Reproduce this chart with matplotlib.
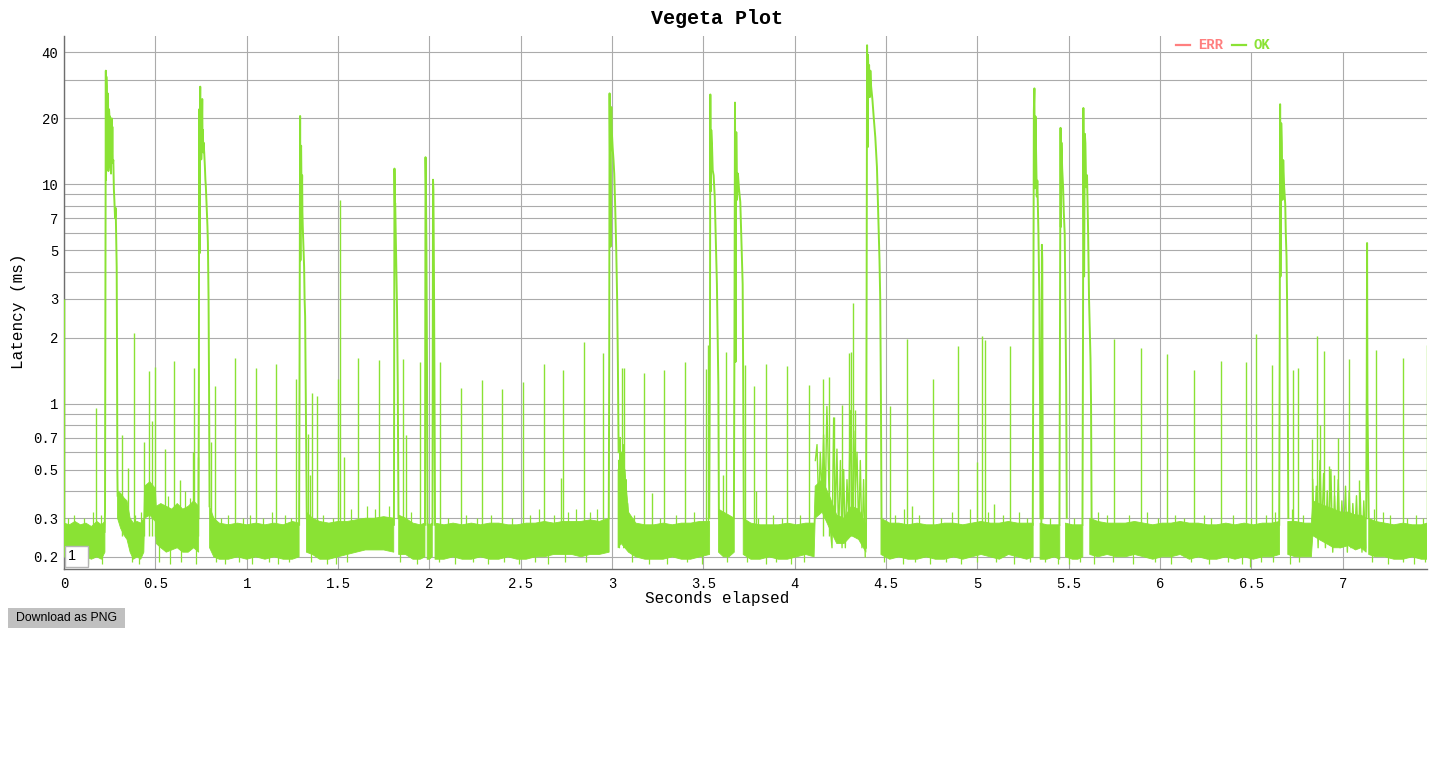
import numpy as np
import matplotlib
matplotlib.use("Agg")
import matplotlib.pyplot as plt
from matplotlib.patches import Rectangle
from matplotlib.lines import Line2D

nan = np.nan

# ---------------- data ----------------
# dense "normal" latency band: envelope (seconds, low ms, high ms); nan = gap
band_t = [0.000, 0.030, 0.060, 0.090, 0.120, 0.150, 0.180, 0.205, 0.224, nan,
          0.293, 0.310, 0.330, 0.345, 0.362, 0.380, 0.400, 0.420, 0.437, 0.441, 0.470,
          0.500, 0.505, 0.530, 0.560, 0.590, 0.620, 0.650, 0.680, 0.710, 0.737, nan,
          0.797, 0.820, 0.850, 0.900, 0.950, 1.000, 1.050, 1.100, 1.150, 1.200, 1.250, 1.287, nan,
          1.327, 1.360, 1.400, 1.450, 1.500, 1.550, 1.600, 1.650, 1.700, 1.750, 1.805, nan,
          1.832, 1.870, 1.910, 1.950, 1.976, nan,
          1.988, 2.000, 2.016, nan,
          2.031, 2.080, 2.130, 2.180, 2.230, 2.280, 2.330, 2.380, 2.430, 2.480,
          2.530, 2.580, 2.630, 2.680, 2.730, 2.780, 2.830, 2.880, 2.930, 2.984, nan,
          3.033, 3.050, 3.070, 3.090, 3.130, 3.180, 3.230, 3.280, 3.330, 3.380, 3.430, 3.480, 3.534, nan,
          3.583, 3.610, 3.640, 3.669, nan,
          3.718, 3.760, 3.810, 3.860, 3.910, 3.960, 4.010, 4.060, 4.106, 4.112, 4.150, 4.190,
          4.230, 4.270, 4.310, 4.350, 4.390, nan,
          4.472, 4.520, 4.570, 4.620, 4.670, 4.720, 4.770, 4.820, 4.870, 4.920, 4.970, 5.020,
          5.070, 5.120, 5.170, 5.220, 5.270, 5.305, nan,
          5.343, 5.380, 5.420, 5.451, nan,
          5.482, 5.520, 5.550, 5.577, nan,
          5.615, 5.660, 5.710, 5.760, 5.810, 5.860, 5.910, 5.960, 6.010, 6.060, 6.110, 6.160,
          6.210, 6.260, 6.310, 6.360, 6.410, 6.460, 6.510, 6.560, 6.610, 6.654, nan,
          6.699, 6.740, 6.790, 6.828, 6.836, 6.870, 6.910, 6.950, 6.990, 7.030, 7.070, 7.100, 7.128, nan,
          7.142, 7.180, 7.230, 7.280, 7.330, 7.380, 7.430, 7.462]
band_hi = [0.285, 0.28, 0.29, 0.28, 0.285, 0.275, 0.29, 0.28, 0.29, nan,
           0.40, 0.39, 0.37, 0.36, 0.30, 0.285, 0.29, 0.285, 0.30, 0.42, 0.44,
           0.41, 0.34, 0.35, 0.34, 0.33, 0.35, 0.33, 0.34, 0.36, 0.34, nan,
           0.34, 0.30, 0.285, 0.28, 0.285, 0.28, 0.285, 0.28, 0.285, 0.28, 0.29, 0.285, nan,
           0.32, 0.30, 0.29, 0.285, 0.29, 0.29, 0.295, 0.30, 0.30, 0.305, 0.30, nan,
           0.31, 0.30, 0.285, 0.28, 0.285, nan,
           0.285, 0.28, 0.285, nan,
           0.285, 0.28, 0.285, 0.28, 0.285, 0.28, 0.285, 0.285, 0.28, 0.28,
           0.285, 0.285, 0.29, 0.285, 0.29, 0.29, 0.29, 0.295, 0.29, 0.30, nan,
           0.50, 0.55, 0.50, 0.32, 0.285, 0.28, 0.28, 0.285, 0.28, 0.285, 0.285, 0.29, 0.29, nan,
           0.33, 0.32, 0.31, 0.30, nan,
           0.30, 0.285, 0.28, 0.28, 0.28, 0.285, 0.28, 0.285, 0.285, 0.42, 0.45, 0.38,
           0.31, 0.30, 0.34, 0.33, 0.28, nan,
           0.30, 0.285, 0.285, 0.28, 0.285, 0.28, 0.28, 0.285, 0.285, 0.28, 0.285, 0.29,
           0.285, 0.285, 0.29, 0.285, 0.285, 0.285, nan,
           0.285, 0.28, 0.28, 0.28, nan,
           0.285, 0.28, 0.28, 0.28, nan,
           0.30, 0.29, 0.285, 0.285, 0.285, 0.29, 0.285, 0.28, 0.285, 0.285, 0.29, 0.285,
           0.285, 0.28, 0.28, 0.285, 0.28, 0.285, 0.28, 0.285, 0.285, 0.29, nan,
           0.29, 0.29, 0.285, 0.285, 0.36, 0.35, 0.34, 0.33, 0.32, 0.32, 0.31, 0.31, 0.30, nan,
           0.30, 0.29, 0.285, 0.28, 0.285, 0.28, 0.28, 0.285]
band_lo = [0.20, 0.195, 0.20, 0.195, 0.20, 0.195, 0.20, 0.195, 0.21, nan,
           0.30, 0.27, 0.25, 0.24, 0.21, 0.195, 0.20, 0.195, 0.21, 0.30, 0.31,
           0.29, 0.23, 0.22, 0.21, 0.215, 0.22, 0.21, 0.21, 0.22, 0.21, nan,
           0.22, 0.20, 0.195, 0.195, 0.20, 0.195, 0.20, 0.195, 0.20, 0.195, 0.195, 0.20, nan,
           0.21, 0.205, 0.195, 0.195, 0.20, 0.205, 0.21, 0.215, 0.215, 0.215, 0.21, nan,
           0.205, 0.205, 0.195, 0.195, 0.20, nan,
           0.195, 0.195, 0.20, nan,
           0.195, 0.195, 0.20, 0.195, 0.195, 0.20, 0.195, 0.195, 0.20, 0.195,
           0.195, 0.20, 0.20, 0.205, 0.205, 0.205, 0.20, 0.205, 0.205, 0.21, nan,
           0.22, 0.23, 0.22, 0.21, 0.20, 0.195, 0.195, 0.195, 0.20, 0.195, 0.195, 0.20, 0.205, nan,
           0.21, 0.20, 0.20, 0.21, nan,
           0.205, 0.195, 0.195, 0.20, 0.195, 0.195, 0.20, 0.205, 0.20, 0.30, 0.32, 0.27,
           0.23, 0.23, 0.25, 0.24, 0.21, nan,
           0.205, 0.195, 0.20, 0.195, 0.195, 0.20, 0.195, 0.195, 0.20, 0.195, 0.20, 0.205,
           0.20, 0.195, 0.205, 0.20, 0.195, 0.20, nan,
           0.195, 0.195, 0.20, 0.195, nan,
           0.20, 0.195, 0.195, 0.20, nan,
           0.205, 0.20, 0.205, 0.20, 0.20, 0.205, 0.20, 0.195, 0.20, 0.20, 0.205, 0.195,
           0.20, 0.195, 0.195, 0.20, 0.195, 0.20, 0.195, 0.20, 0.20, 0.205, nan,
           0.205, 0.20, 0.20, 0.20, 0.25, 0.24, 0.23, 0.22, 0.22, 0.225, 0.215, 0.22, 0.21, nan,
           0.205, 0.20, 0.20, 0.195, 0.195, 0.20, 0.195, 0.195]

# small excursions out of the band (seconds, ms)
tip_up_t = [0.020, 0.055, 0.110, 0.160, 0.205, 0.390, 0.420, 0.570, 0.660, 0.690, 0.860, 0.900,
            0.980, 1.020, 1.090, 1.140, 1.210, 1.240, 1.420, 1.470, 1.570, 1.660, 1.700, 1.780,
            1.900, 2.100, 2.200, 2.260, 2.340, 2.450, 2.550, 2.600, 2.680, 2.760, 2.800, 2.880,
            2.920, 3.120, 3.260, 3.350, 3.450, 3.800, 3.880, 3.930, 4.030, 4.550, 4.600, 4.680,
            4.800, 4.860, 4.960, 5.060, 5.140, 5.230, 5.270, 5.400, 5.530, 5.660, 5.710, 5.830,
            5.930, 5.990, 6.080, 6.130, 6.240, 6.280, 6.400, 6.500, 6.580, 6.630, 6.720, 6.780,
            7.170, 7.220, 7.260, 7.350, 7.400, 7.440]
tip_up_v = [0.30, 0.31, 0.30, 0.32, 0.31, 0.31, 0.32, 0.38, 0.40, 0.37, 0.30, 0.31,
            0.30, 0.31, 0.30, 0.32, 0.31, 0.30, 0.31, 0.30, 0.33, 0.34, 0.33, 0.34,
            0.32, 0.30, 0.31, 0.30, 0.31, 0.30, 0.31, 0.33, 0.31, 0.32, 0.33, 0.32,
            0.33, 0.31, 0.30, 0.31, 0.32, 0.30, 0.31, 0.30, 0.31, 0.31, 0.33, 0.31,
            0.30, 0.32, 0.33, 0.32, 0.31, 0.32, 0.30, 0.30, 0.30, 0.32, 0.31, 0.31,
            0.32, 0.30, 0.31, 0.30, 0.31, 0.30, 0.31, 0.30, 0.31, 0.32, 0.33, 0.31,
            0.33, 0.32, 0.31, 0.30, 0.31, 0.30]
tip_dn_t = [0.040, 0.130, 0.210, 0.370, 0.410, 0.520, 0.580, 0.640, 0.720, 0.830, 0.880, 0.960,
            1.030, 1.120, 1.170, 1.230, 1.350, 1.440, 1.490, 1.550, 1.840, 1.930, 2.050, 2.140,
            2.240, 2.320, 2.410, 2.490, 2.580, 2.650, 2.740, 2.860, 3.110, 3.200, 3.300, 3.410,
            3.490, 3.630, 3.740, 3.840, 3.900, 3.980, 4.050, 4.490, 4.590, 4.660, 4.740, 4.830,
            4.910, 5.000, 5.100, 5.200, 5.290, 5.370, 5.440, 5.500, 5.560, 5.640, 5.740, 5.850,
            5.970, 6.060, 6.170, 6.270, 6.370, 6.450, 6.490, 6.550, 6.620, 6.710, 6.760, 7.160,
            7.250, 7.330, 7.390, 7.450]
tip_dn_v = [0.19, 0.185, 0.185, 0.19, 0.185, 0.19, 0.185, 0.19, 0.185, 0.19, 0.185, 0.19,
            0.185, 0.19, 0.185, 0.19, 0.19, 0.185, 0.185, 0.19, 0.19, 0.185, 0.19, 0.185,
            0.19, 0.185, 0.19, 0.185, 0.19, 0.185, 0.19, 0.19, 0.19, 0.185, 0.185, 0.19,
            0.185, 0.19, 0.19, 0.185, 0.19, 0.185, 0.19, 0.19, 0.185, 0.19, 0.185, 0.19,
            0.185, 0.19, 0.19, 0.185, 0.19, 0.19, 0.185, 0.185, 0.19, 0.185, 0.19, 0.185,
            0.19, 0.185, 0.19, 0.185, 0.19, 0.185, 0.18, 0.19, 0.19, 0.185, 0.19, 0.19,
            0.185, 0.19, 0.185, 0.19]
tip_mid = 0.24

# latency bursts (seconds, ms); nan separates bursts
burst_t = [0.222, 0.2245, 0.2290, 0.2300, 0.2318, 0.2336, 0.2355, 0.2373, 0.2391, 0.2410, 0.2428,
           0.2446, 0.2465, 0.2480, 0.2500, 0.2519, 0.2540, 0.2574, 0.2590, 0.2610, 0.2630, 0.2647,
           0.2670, 0.2700, 0.2730, 0.2757, 0.2795, 0.2830, 0.2860, 0.2884, 0.2905, 0.2920, 0.2935, nan,
           0.7360, 0.7384, 0.7400, 0.7420, 0.7440, 0.7457, 0.7475, 0.7494, 0.7512, 0.7530, 0.7550,
           0.7567, 0.7585, 0.7603, 0.7620, 0.7640, 0.7676, 0.7713, 0.7740, 0.7767, 0.7795, 0.7822,
           0.7850, 0.7877, 0.7913, 0.7940, 0.7968, nan,
           1.2870, 1.2890, 1.2915, 1.2925, 1.2943, 1.2960, 1.2980, 1.3000, 1.3016, 1.3035, 1.3050,
           1.3070, 1.3110, 1.3144, 1.3170, 1.3199, 1.3230, 1.3254, 1.3290, nan,
           1.806, 1.809, 1.811, 1.813, 1.818, 1.823, 1.827, 1.831, nan,
           1.976, 1.979, 1.981, 1.984, 1.987, 1.990, nan,
           2.017, 2.020, 2.022, 2.025, 2.028, 2.031, nan,
           2.982, 2.9845, 2.9865, 2.988, 2.990, 2.992, 2.994, 2.996, 2.9993, 3.003, 3.008, 3.012,
           3.017, 3.023, 3.028, 3.032, 3.036, nan,
           3.532, 3.536, 3.538, 3.540, 3.543, 3.547, 3.551, 3.556, 3.562, 3.567, 3.574, 3.578,
           3.582, 3.585, nan,
           3.667, 3.670, 3.673, 3.675, 3.676, 3.680, 3.684, 3.689, 3.695, 3.702, 3.707, 3.711,
           3.715, 3.718, 3.721, nan,
           4.390, 4.3935, 4.396, 4.398, 4.400, 4.401, 4.404, 4.407, 4.411, 4.414, 4.418, 4.425,
           4.432, 4.441, 4.450, 4.459, 4.464, 4.468, 4.472, 4.475, nan,
           5.303, 5.306, 5.309, 5.312, 5.314, 5.316, 5.318, 5.321, 5.325, 5.328, 5.331, 5.334,
           5.339, 5.343, 5.345, nan,
           5.350, 5.353, 5.355, 5.358, nan,
           5.449, 5.452, 5.455, 5.457, 5.460, 5.464, 5.469, 5.473, 5.478, 5.482, 5.486, 5.489, nan,
           5.575, 5.578, 5.580, 5.584, 5.588, 5.591, 5.595, 5.600, 5.606, 5.611, 5.615, 5.619,
           5.622, 5.625, nan,
           6.652, 6.655, 6.657, 6.659, 6.663, 6.666, 6.670, 6.674, 6.679, 6.685, 6.688, 6.692,
           6.695, 6.699, 6.702, nan,
           7.128, 7.131, 7.133, 7.135, 7.138, 7.142]
burst_v = [0.26, 0.32, 33.0, 10.5, 31.0, 28.0, 12.0, 14.0, 26.0, 25.0, 11.5,
           12.0, 22.0, 21.0, 13.0, 20.4, 16.0, 11.2, 19.0, 20.0, 14.0, 18.3,
           12.5, 12.9, 9.5, 8.5, 7.0, 7.8, 5.5, 4.2, 1.5, 0.5, 0.38, nan,
           0.30, 1.2, 22.0, 4.85, 20.0, 27.9, 14.0, 21.8, 13.0, 14.3, 19.0,
           24.5, 15.0, 17.7, 14.0, 15.5, 13.9, 12.0, 10.5, 9.7, 8.5, 7.6,
           6.5, 5.4, 3.0, 1.2, 0.34, nan,
           0.28, 1.0, 12.0, 20.5, 4.5, 14.0, 15.0, 9.5, 8.7, 11.0, 7.5,
           6.4, 5.0, 4.2, 3.0, 2.5, 1.2, 0.6, 0.3, nan,
           0.28, 11.8, 8.0, 8.2, 4.8, 2.7, 1.2, 0.3, nan,
           0.28, 13.3, 10.0, 5.0, 1.5, 0.28, nan,
           0.28, 10.5, 9.5, 4.0, 1.2, 0.28, nan,
           0.30, 1.5, 26.0, 16.0, 9.6, 5.2, 18.0, 22.5, 17.0, 14.8, 12.9, 11.2,
           8.0, 5.0, 2.96, 1.5, 0.6, nan,
           0.30, 2.0, 25.7, 9.3, 17.7, 15.2, 11.6, 11.0, 8.8, 6.0, 3.5, 2.0,
           1.2, 0.3, nan,
           0.30, 2.0, 23.6, 5.0, 1.55, 17.3, 8.5, 11.2, 9.5, 8.3, 6.0, 4.5,
           3.5, 1.2, 0.3, nan,
           0.22, 3.0, 43.1, 20.0, 14.8, 39.0, 30.0, 35.0, 25.0, 33.0, 28.0, 24.5,
           20.4, 16.4, 12.0, 6.4, 4.5, 3.0, 1.0, 0.3, nan,
           0.28, 2.0, 21.8, 27.4, 9.6, 14.0, 20.4, 13.9, 8.8, 10.4, 8.0, 6.0,
           3.0, 1.0, 0.3, nan,
           0.28, 5.3, 4.5, 0.3, nan,
           0.28, 2.0, 18.1, 6.4, 15.5, 11.8, 9.7, 7.4, 5.9, 2.5, 1.2, 0.3, nan,
           0.28, 2.0, 22.3, 3.8, 17.0, 15.4, 9.7, 11.0, 6.0, 3.0, 2.2, 1.6,
           1.0, 0.3, nan,
           0.28, 2.0, 23.2, 3.8, 19.0, 15.4, 8.5, 12.9, 9.7, 8.1, 6.0, 4.7,
           3.0, 1.0, 0.3, nan,
           0.30, 1.1, 5.4, 1.0, 0.6, 0.3]

# busy stretches where the latency jitters between 0.2 and 1 ms
busy_t = [3.036, 3.040, 3.044, 3.048, 3.052, 3.056, 3.060, 3.064, 3.068, 3.072, 3.076, 3.080, 3.085, 3.090, nan,
          4.113, 4.122, 4.131, 4.140, 4.149, 4.158, 4.167, 4.176, 4.186, 4.195, 4.204, 4.213, 4.222, 4.231,
          4.240, 4.250, 4.259, 4.268, 4.277, 4.286, 4.295, 4.304, 4.313, 4.323, 4.332, 4.341, 4.350, 4.359,
          4.368, 4.377, 4.386, nan,
          6.835, 6.845, 6.855, 6.865, 6.875, 6.885, 6.895, 6.905, 6.915, 6.925, 6.935, 6.945, 6.955, 6.965,
          6.975, 6.985, 6.995, 7.005, 7.015, 7.025, 7.035, 7.045, 7.055, 7.065, 7.075, 7.085, 7.095, 7.105,
          7.115, 7.125]
busy_v = [0.55, 0.22, 0.70, 0.25, 0.60, 0.30, 0.65, 0.22, 0.50, 0.30, 0.45, 0.24, 0.35, 0.25, nan,
          0.55, 0.65, 0.33, 0.60, 0.38, 0.72, 0.35, 0.97, 0.45, 0.27, 0.22, 0.86, 0.30, 0.62,
          0.24, 0.55, 0.22, 0.50, 0.22, 0.45, 0.30, 0.93, 0.26, 0.75, 0.40, 0.60, 0.25, 0.55,
          0.22, 0.45, 0.20, nan,
          0.45, 0.25, 0.42, 0.22, 0.55, 0.26, 0.48, 0.22, 0.40, 0.25, 0.50, 0.21, 0.38, 0.24,
          0.45, 0.22, 0.36, 0.25, 0.42, 0.21, 0.40, 0.22, 0.35, 0.24, 0.38, 0.22, 0.40, 0.21,
          0.36, 0.22]

# isolated single-request spikes (seconds, peak ms)
spike_t = [0.001, 0.175, 0.316, 0.352, 0.385, 0.440, 0.466, 0.484, 0.498, 0.553, 0.604, 0.635,
           0.705, 0.714, 0.732, 0.803, 0.827, 0.936, 1.050, 1.161, 1.270, 1.333, 1.345, 1.356,
           1.384, 1.502, 1.511, 1.530, 1.612, 1.722, 1.855, 1.873, 1.946, 2.059, 2.172, 2.287,
           2.397, 2.512, 2.625, 2.720, 2.734, 2.844, 2.953, 3.054, 3.063, 3.173, 3.218, 3.286,
           3.397, 3.517, 3.523, 3.605, 3.625, 3.729, 3.775, 3.789, 3.845, 3.958, 4.077, 4.152,
           4.186, 4.217, 4.259, 4.295, 4.310, 4.321, 4.332, 4.524, 4.615, 4.642, 4.757, 4.894,
           4.995, 5.025, 5.044, 5.090, 5.181, 5.750, 5.894, 6.040, 6.185, 6.331, 6.468, 6.527,
           6.612, 6.725, 6.754, 6.833, 6.860, 6.874, 6.896, 6.924, 6.951, 6.975, 7.035, 7.088,
           7.180, 7.328, 7.459]
spike_v = [3.0, 0.95, 0.72, 0.51, 2.1, 0.67, 1.41, 0.83, 1.47, 0.62, 1.57, 0.45,
           0.60, 1.45, 0.57, 0.67, 1.2, 1.62, 1.45, 1.52, 1.3, 0.73, 0.47, 1.12,
           1.08, 1.3, 8.5, 0.57, 1.62, 1.58, 1.6, 0.72, 1.55, 1.55, 1.18, 1.28,
           1.17, 1.25, 1.52, 0.46, 1.43, 1.9, 1.71, 1.45, 1.45, 1.38, 0.39, 1.43,
           1.55, 1.44, 1.85, 0.47, 1.72, 1.5, 1.2, 0.4, 1.51, 1.49, 1.22, 1.3,
           1.32, 0.87, 0.99, 1.7, 1.72, 2.87, 0.93, 0.97, 1.98, 0.34, 1.3, 1.84,
           0.54, 2.03, 1.95, 0.35, 1.83, 1.97, 1.8, 1.68, 1.42, 1.57, 1.55, 2.07,
           1.5, 1.42, 1.46, 0.69, 2.03, 0.8, 1.73, 0.52, 0.47, 0.7, 1.6, 0.45,
           1.75, 1.62, 1.85]
spike_base = 0.25

y_grid = [0.2, 0.3, 0.4, 0.5, 0.6, 0.7, 0.8, 0.9, 1, 2, 3, 4, 5, 6, 7, 8, 9, 10, 20, 30, 40]
y_labels = ["0.2", "0.3", "", "0.5", "", "0.7", "", "", "1", "2", "3", "", "5", "", "7", "", "",
            "10", "20", "", "40"]
x_ticks = [0, 0.5, 1, 1.5, 2, 2.5, 3, 3.5, 4, 4.5, 5, 5.5, 6, 6.5, 7]
x_labels = ["0", "0.5", "1", "1.5", "2", "2.5", "3", "3.5", "4", "4.5", "5", "5.5", "6", "6.5", "7"]
series_names = ["ERR", "OK"]

assert len(band_t) == len(band_lo) == len(band_hi)
assert len(burst_t) == len(burst_v)
assert len(busy_t) == len(busy_v)
assert len(spike_t) == len(spike_v)
assert len(tip_up_t) == len(tip_up_v)
assert len(tip_dn_t) == len(tip_dn_v)

# ---------------- styling ----------------
OK_COLOR = "#8ae234"
ERR_COLOR = "#ff7f7f"
GRID = "#ababab"
MONO = "Liberation Mono"
SANS = "Liberation Sans"

W, H = 1440, 778
fig = plt.figure(figsize=(W / 100, H / 100), dpi=100)
fig.patch.set_facecolor("white")


def fx(px):
    return px / W


def fy(py):
    return 1 - py / H


L, R, T, B = 64, 1427, 36, 569
ax = fig.add_axes([fx(L), fy(B), (R - L) / W, (B - T) / H])
ax.set_yscale("log")
ax.set_xlim(0, 7.461)
ax.set_ylim(0.176, 47.5)

ax.fill_between(np.array(band_t), np.array(band_lo), np.array(band_hi),
                color=OK_COLOR, lw=0.6, zorder=3)
ax.vlines(tip_up_t, tip_mid, tip_up_v, color=OK_COLOR, lw=0.9, zorder=3)
ax.vlines(tip_dn_t, tip_dn_v, tip_mid, color=OK_COLOR, lw=0.9, zorder=3)
ax.plot(busy_t, busy_v, color=OK_COLOR, lw=1.0, zorder=3)
ax.plot(burst_t, burst_v, color=OK_COLOR, lw=1.4, zorder=3)
ax.vlines(spike_t, spike_base, spike_v, color=OK_COLOR, lw=1.0, zorder=3)

ax.set_yticks(y_grid)
ax.set_yticklabels(y_labels)
ax.minorticks_off()
ax.set_xticks(x_ticks)
ax.set_xticklabels(x_labels)
ax.tick_params(length=0, labelsize=10, colors="black")
ax.tick_params(axis="x", pad=6)
ax.tick_params(axis="y", pad=4)
for lab in ax.get_xticklabels() + ax.get_yticklabels():
    lab.set_fontfamily(MONO)
ax.grid(True, color=GRID, lw=0.8, zorder=0)
ax.set_axisbelow(True)
for s in ("top", "right"):
    ax.spines[s].set_visible(False)
for s in ("left", "bottom"):
    ax.spines[s].set_color("#6e6e6e")
    ax.spines[s].set_linewidth(1.0)

# titles
fig.text(fx(717), fy(24.5), "Vegeta Plot", ha="center", va="baseline",
         fontsize=14.4, fontweight="bold", family=MONO)
fig.text(fx(717), fy(603), "Seconds elapsed", ha="center", va="baseline",
         fontsize=11.5, family=MONO)
fig.text(fx(19), fy(311), "Latency (ms)", ha="center", va="center", rotation=90,
         fontsize=11.5, family=MONO)

# legend (white strip over the grid, top right)
fig.add_artist(Rectangle((fx(1162), fy(51.5)), (R - 1162) / W, 15.5 / H,
                         transform=fig.transFigure, facecolor="white", edgecolor="none", zorder=5))
fig.add_artist(Line2D([fx(1176), fx(1190)], [fy(44.5), fy(44.5)], color=ERR_COLOR, lw=1.6,
                      transform=fig.transFigure, zorder=6))
fig.text(fx(1198), fy(49), series_names[0], color=ERR_COLOR, fontsize=10, fontweight="bold",
         family=MONO, va="baseline", zorder=6)
fig.add_artist(Line2D([fx(1232), fx(1246)], [fy(44.5), fy(44.5)], color=OK_COLOR, lw=1.6,
                      transform=fig.transFigure, zorder=6))
fig.text(fx(1254), fy(49), series_names[1], color=OK_COLOR, fontsize=10, fontweight="bold",
         family=MONO, va="baseline", zorder=6)

# rolling-period input box
fig.add_artist(Rectangle((fx(65), fy(566.5)), 23 / W, 21 / H, transform=fig.transFigure,
                         facecolor="white", edgecolor="#b5b5b5", lw=1.0, zorder=6))
fig.text(fx(68), fy(560.5), "1", fontsize=10.5, family=SANS, va="baseline", zorder=7)

# download button
fig.add_artist(Rectangle((fx(8), fy(628)), 117 / W, 20 / H, transform=fig.transFigure,
                         facecolor="#c0c0c0", edgecolor="none", zorder=6))
fig.text(fx(66.5), fy(618), "Download as PNG", ha="center", va="center", fontsize=8.8,
         family=SANS, zorder=7)

fig.savefig("out.png", dpi=100)
